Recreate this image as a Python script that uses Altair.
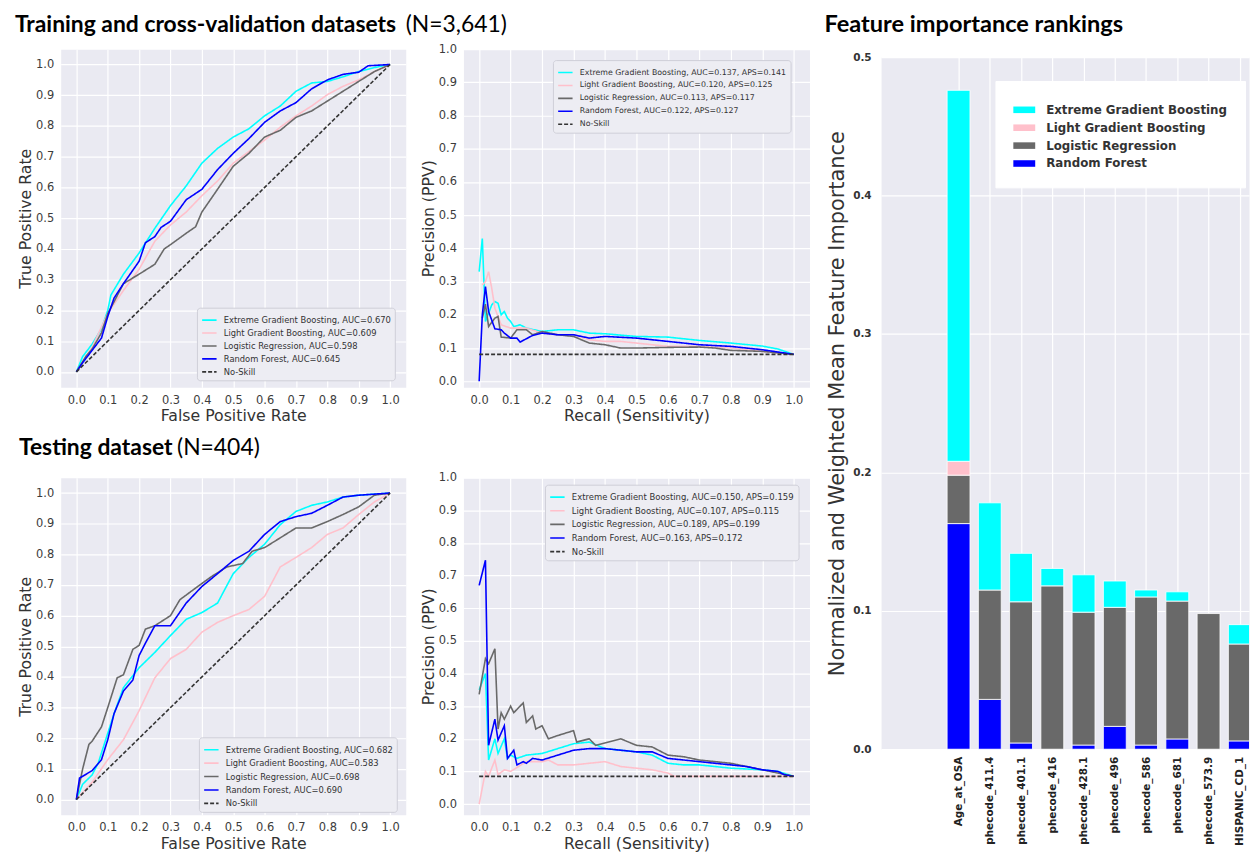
import altair as alt
import pandas as pd

# ---------------- data ----------------
MODELS = ["Extreme Gradient Boosting", "Light Gradient Boosting", "Logistic Regression", "Random Forest"]
LINE_COLORS = ["#00ffff", "#ffc0cb", "#696969", "#0000ff", "#333333"]
BAR_COLORS = ["#00ffff", "#ffc0cb", "#696969", "#0000ff"]

# ROC - training / cross-validation
roc1_xgb_x = [0, 0.02, 0.05, 0.08, 0.1, 0.11, 0.15, 0.2, 0.25, 0.3, 0.35, 0.4, 0.45, 0.5, 0.55, 0.6, 0.65, 0.7, 0.75, 0.8, 0.85, 0.9, 0.95, 1.0]
roc1_xgb_y = [0, 0.05, 0.09, 0.14, 0.2, 0.25, 0.318, 0.387, 0.467, 0.541, 0.605, 0.679, 0.727, 0.764, 0.791, 0.833, 0.865, 0.913, 0.94, 0.945, 0.96, 0.977, 0.99, 1.0]
roc1_lgb_x = [0, 0.05, 0.1, 0.15, 0.2, 0.25, 0.3, 0.35, 0.4, 0.45, 0.5, 0.55, 0.6, 0.65, 0.7, 0.75, 0.8, 0.85, 0.9, 0.95, 1.0]
roc1_lgb_y = [0, 0.08, 0.19, 0.265, 0.334, 0.425, 0.478, 0.52, 0.573, 0.621, 0.679, 0.717, 0.754, 0.796, 0.833, 0.865, 0.902, 0.929, 0.95, 0.977, 1.0]
roc1_lr_x = [0, 0.03, 0.05, 0.08, 0.1, 0.12, 0.15, 0.2, 0.25, 0.28, 0.3, 0.35, 0.38, 0.4, 0.45, 0.5, 0.55, 0.6, 0.65, 0.7, 0.75, 0.8, 0.85, 0.9, 0.95, 1.0]
roc1_lr_y = [0, 0.05, 0.074, 0.127, 0.19, 0.228, 0.287, 0.318, 0.35, 0.40, 0.414, 0.451, 0.472, 0.52, 0.594, 0.669, 0.711, 0.764, 0.786, 0.828, 0.849, 0.881, 0.913, 0.945, 0.977, 1.0]
roc1_rf_x = [0, 0.02, 0.05, 0.08, 0.1, 0.12, 0.15, 0.2, 0.22, 0.25, 0.27, 0.3, 0.35, 0.4, 0.45, 0.5, 0.55, 0.6, 0.65, 0.7, 0.75, 0.8, 0.85, 0.9, 0.93, 1.0]
roc1_rf_y = [0, 0.03, 0.07, 0.11, 0.18, 0.24, 0.287, 0.36, 0.42, 0.44, 0.47, 0.49, 0.56, 0.594, 0.658, 0.711, 0.759, 0.812, 0.849, 0.876, 0.921, 0.95, 0.968, 0.975, 0.996, 1.0]
roc1_auc = [0.670, 0.609, 0.598, 0.645]

# PR - training / cross-validation
pr1_xgb_x = [0, 0.01, 0.02, 0.04, 0.05, 0.06, 0.07, 0.08, 0.09, 0.1, 0.11, 0.13, 0.15, 0.2, 0.25, 0.3, 0.35, 0.4, 0.5, 0.6, 0.7, 0.8, 0.9, 0.95, 1.0]
pr1_xgb_y = [0.33, 0.43, 0.18, 0.23, 0.24, 0.235, 0.2, 0.21, 0.19, 0.18, 0.165, 0.17, 0.16, 0.15, 0.155, 0.155, 0.145, 0.143, 0.135, 0.133, 0.123, 0.115, 0.106, 0.097, 0.081]
pr1_lgb_x = [0.01, 0.02, 0.03, 0.04, 0.05, 0.07, 0.1, 0.15, 0.2, 0.25, 0.3, 0.35, 0.4, 0.45, 0.5, 0.55, 0.6, 0.7, 0.8, 0.9, 1.0]
pr1_lgb_y = [0.29, 0.3, 0.33, 0.28, 0.22, 0.17, 0.16, 0.16, 0.145, 0.14, 0.14, 0.125, 0.12, 0.12, 0.115, 0.11, 0.105, 0.105, 0.1, 0.09, 0.081]
pr1_lr_x = [0.01, 0.02, 0.03, 0.05, 0.06, 0.07, 0.1, 0.12, 0.15, 0.17, 0.2, 0.25, 0.3, 0.35, 0.4, 0.45, 0.5, 0.6, 0.7, 0.75, 0.8, 0.9, 1.0]
pr1_lr_y = [0.19, 0.232, 0.165, 0.19, 0.195, 0.133, 0.13, 0.155, 0.155, 0.14, 0.15, 0.14, 0.135, 0.115, 0.11, 0.1, 0.1, 0.102, 0.103, 0.1, 0.093, 0.09, 0.081]
pr1_rf_x = [0, 0.01, 0.02, 0.03, 0.05, 0.07, 0.08, 0.1, 0.12, 0.13, 0.15, 0.17, 0.2, 0.25, 0.3, 0.35, 0.4, 0.5, 0.6, 0.7, 0.8, 0.9, 1.0]
pr1_rf_y = [0.0, 0.2, 0.285, 0.21, 0.158, 0.155, 0.145, 0.13, 0.13, 0.118, 0.128, 0.138, 0.145, 0.14, 0.14, 0.13, 0.135, 0.13, 0.12, 0.11, 0.105, 0.095, 0.081]
pr1_auc = [0.137, 0.120, 0.113, 0.122]
pr1_aps = [0.141, 0.125, 0.117, 0.127]
pr1_noskill = 0.081

# ROC - testing
roc2_xgb_x = [0, 0.02, 0.05, 0.07, 0.1, 0.12, 0.15, 0.2, 0.25, 0.3, 0.35, 0.4, 0.45, 0.5, 0.55, 0.6, 0.65, 0.7, 0.75, 0.8, 0.85, 0.9, 1.0]
roc2_xgb_y = [0, 0.05, 0.08, 0.12, 0.216, 0.28, 0.365, 0.43, 0.48, 0.535, 0.588, 0.61, 0.641, 0.737, 0.79, 0.833, 0.897, 0.94, 0.96, 0.971, 0.987, 0.993, 1.0]
roc2_lgb_x = [0, 0.05, 0.1, 0.15, 0.2, 0.25, 0.3, 0.35, 0.4, 0.45, 0.5, 0.55, 0.6, 0.65, 0.7, 0.75, 0.8, 0.85, 0.9, 0.95, 1.0]
roc2_lgb_y = [0, 0.056, 0.13, 0.195, 0.29, 0.397, 0.46, 0.49, 0.546, 0.578, 0.6, 0.62, 0.663, 0.759, 0.79, 0.822, 0.865, 0.886, 0.93, 0.971, 1.0]
roc2_lr_x = [0, 0.02, 0.04, 0.05, 0.08, 0.1, 0.13, 0.15, 0.18, 0.2, 0.22, 0.25, 0.3, 0.33, 0.38, 0.43, 0.48, 0.53, 0.56, 0.6, 0.65, 0.7, 0.75, 0.8, 0.85, 0.9, 0.95, 1.0]
roc2_lr_y = [0, 0.1, 0.18, 0.19, 0.237, 0.30, 0.397, 0.407, 0.49, 0.503, 0.556, 0.567, 0.6, 0.652, 0.69, 0.727, 0.759, 0.77, 0.81, 0.822, 0.854, 0.886, 0.886, 0.907, 0.93, 0.955, 0.993, 1.0]
roc2_rf_x = [0, 0.01, 0.05, 0.08, 0.1, 0.12, 0.15, 0.18, 0.2, 0.22, 0.25, 0.3, 0.35, 0.4, 0.45, 0.5, 0.55, 0.6, 0.65, 0.7, 0.75, 0.8, 0.85, 0.9, 1.0]
roc2_rf_y = [0, 0.07, 0.094, 0.13, 0.195, 0.28, 0.354, 0.39, 0.47, 0.51, 0.567, 0.567, 0.641, 0.695, 0.737, 0.78, 0.81, 0.865, 0.907, 0.923, 0.934, 0.96, 0.987, 0.993, 1.0]
roc2_auc = [0.682, 0.583, 0.698, 0.690]

# PR - testing
pr2_xgb_x = [0, 0.02, 0.03, 0.05, 0.06, 0.08, 0.09, 0.1, 0.12, 0.15, 0.2, 0.25, 0.3, 0.35, 0.4, 0.45, 0.5, 0.55, 0.6, 0.65, 0.7, 0.75, 0.8, 0.9, 0.95, 1.0]
pr2_xgb_y = [0.35, 0.4, 0.135, 0.2, 0.155, 0.2, 0.14, 0.15, 0.14, 0.15, 0.155, 0.17, 0.185, 0.19, 0.17, 0.165, 0.16, 0.15, 0.125, 0.12, 0.12, 0.115, 0.11, 0.105, 0.1, 0.085]
pr2_lgb_x = [0, 0.02, 0.03, 0.05, 0.06, 0.08, 0.1, 0.15, 0.2, 0.22, 0.25, 0.3, 0.35, 0.4, 0.45, 0.5, 0.55, 0.6, 0.62, 0.7, 0.8, 1.0]
pr2_lgb_y = [0.0, 0.1, 0.085, 0.135, 0.09, 0.105, 0.1, 0.13, 0.13, 0.135, 0.12, 0.12, 0.125, 0.13, 0.115, 0.11, 0.105, 0.095, 0.085, 0.085, 0.085, 0.085]
pr2_lr_x = [0, 0.02, 0.03, 0.05, 0.06, 0.07, 0.08, 0.1, 0.11, 0.14, 0.15, 0.17, 0.18, 0.2, 0.22, 0.25, 0.3, 0.31, 0.35, 0.37, 0.45, 0.5, 0.55, 0.6, 0.65, 0.7, 0.75, 0.8, 0.85, 0.9, 0.95, 1.0]
pr2_lr_y = [0.336, 0.446, 0.43, 0.476, 0.23, 0.28, 0.26, 0.3, 0.28, 0.31, 0.25, 0.27, 0.23, 0.24, 0.2, 0.21, 0.225, 0.19, 0.2, 0.18, 0.2, 0.18, 0.175, 0.15, 0.145, 0.135, 0.13, 0.125, 0.115, 0.105, 0.095, 0.085]
pr2_rf_x = [0, 0.02, 0.03, 0.05, 0.06, 0.08, 0.09, 0.11, 0.12, 0.14, 0.15, 0.17, 0.2, 0.25, 0.3, 0.35, 0.4, 0.45, 0.5, 0.55, 0.6, 0.65, 0.7, 0.75, 0.8, 0.85, 0.9, 0.95, 0.97, 1.0]
pr2_rf_y = [0.67, 0.747, 0.18, 0.26, 0.196, 0.24, 0.14, 0.165, 0.12, 0.13, 0.125, 0.14, 0.135, 0.15, 0.165, 0.17, 0.17, 0.165, 0.16, 0.16, 0.14, 0.135, 0.13, 0.125, 0.12, 0.115, 0.105, 0.1, 0.09, 0.085]
pr2_auc = [0.150, 0.107, 0.189, 0.163]
pr2_aps = [0.159, 0.115, 0.199, 0.172]
pr2_noskill = 0.085

# Feature importance (stack order bottom->top: RF, LR, LGB, XGB)
features = ["Age_at_OSA", "phecode_411.4", "phecode_401.1", "phecode_416", "phecode_428.1",
            "phecode_496", "phecode_586", "phecode_681", "phecode_573.9", "HISPANIC_CD_1"]
imp_rf = [0.163, 0.036, 0.0045, 0.0, 0.003, 0.0165, 0.003, 0.0074, 0.0, 0.006]
imp_lr = [0.035, 0.079, 0.102, 0.118, 0.096, 0.086, 0.107, 0.0996, 0.098, 0.070]
imp_lgb = [0.010, 0.0, 0.0, 0.0, 0.0, 0.0, 0.0, 0.0, 0.0, 0.0]
imp_xgb = [0.268, 0.063, 0.035, 0.0126, 0.027, 0.019, 0.005, 0.0067, 0.0, 0.014]

title_train = ["Training and cross-validation datasets", "(N=3,641)"]
title_test = ["Testing dataset", "(N=404)"]
title_feat = "Feature importance rankings"

# ---------------- helpers ----------------
TICKS = [round(0.1 * k, 1) for k in range(11)]
TITLE_FONT = "Lato"


def text_layer(txt, x, y, weight, size=23):
    return alt.Chart(pd.DataFrame({"t": [txt]})).mark_text(
        align="left", baseline="alphabetic", font=TITLE_FONT, fontSize=size,
        fontWeight=weight, color="#000000"
    ).encode(text="t:N", x=alt.value(x), y=alt.value(y))


def curve_panel(xs, ys, labels, ns_x, ns_y, xtitle, ytitle, ydom, w, h, lx, ly,
                lfont=8.4, lrow=0.0, extra=()):
    rows = []
    for lab, xv, yv in zip(labels, xs, ys):
        for i, (a, b) in enumerate(zip(xv, yv)):
            rows.append({"x": a, "y": b, "series": lab, "i": i})
    for i, (a, b) in enumerate(zip(ns_x, ns_y)):
        rows.append({"x": a, "y": b, "series": "No-Skill", "i": i})
    df = pd.DataFrame(rows)
    dom = list(labels) + ["No-Skill"]
    leg = alt.Legend(
        title=None, orient="none", legendX=lx, legendY=ly, symbolType="stroke",
        symbolSize=210, symbolStrokeWidth=1.6, labelFont="DejaVu Sans", labelFontSize=lfont,
        labelColor="#333333", labelLimit=500, padding=4, rowPadding=lrow, labelOffset=6,
        fillColor="#ededf3", strokeColor="#cfcfd8", cornerRadius=3,
    )
    axis_common = dict(values=TICKS, format=".1f", labelFontSize=11.5, labelPadding=7,
                       titleFontSize=15.8, titleFontWeight="normal", labelFlush=False,
                       labelColor="#3c3c3c", titleColor="#333333")
    lines = alt.Chart(df).mark_line(strokeWidth=1.6).encode(
        x=alt.X("x:Q", scale=alt.Scale(domain=[-0.05, 1.05], nice=False, zero=False),
                axis=alt.Axis(title=xtitle, titlePadding=3, **axis_common)),
        y=alt.Y("y:Q", scale=alt.Scale(domain=ydom, nice=False, zero=False),
                axis=alt.Axis(title=ytitle, titlePadding=2, **axis_common)),
        color=alt.Color("series:N", scale=alt.Scale(domain=dom, range=LINE_COLORS), legend=leg),
        strokeDash=alt.StrokeDash("series:N", scale=alt.Scale(domain=dom, range=[[1, 0]] * 4 + [[4, 2]]), legend=leg),
        order="i:Q",
    )
    return alt.layer(lines, *extra).properties(width=w, height=h)


roc_lab = lambda aucs: [f"{m}, AUC={a:.3f}" for m, a in zip(MODELS, aucs)]
pr_lab = lambda aucs, apss: [f"{m}, AUC={a:.3f}, APS={p:.3f}" for m, a, p in zip(MODELS, aucs, apss)]

roc1 = curve_panel(
    [roc1_xgb_x, roc1_lgb_x, roc1_lr_x, roc1_rf_x], [roc1_xgb_y, roc1_lgb_y, roc1_lr_y, roc1_rf_y],
    roc_lab(roc1_auc), [0, 1], [0, 1], "False Positive Rate", "True Positive Rate",
    [-0.05, 1.05], 347, 340, 137, 260, lfont=8.4, lrow=0.0,
    extra=(text_layer(title_train[0], -46, -17, "bold"), text_layer(title_train[1], 347, -17, "normal")),
)
pr1 = curve_panel(
    [pr1_xgb_x, pr1_lgb_x, pr1_lr_x, pr1_rf_x], [pr1_xgb_y, pr1_lgb_y, pr1_lr_y, pr1_rf_y],
    pr_lab(pr1_auc, pr1_aps), [0, 1], [pr1_noskill, pr1_noskill], "Recall (Sensitivity)", "Precision (PPV)",
    [-0.018, 1.0], 348, 340, 90, 11, lfont=7.9, lrow=0.0,
)
roc2 = curve_panel(
    [roc2_xgb_x, roc2_lgb_x, roc2_lr_x, roc2_rf_x], [roc2_xgb_y, roc2_lgb_y, roc2_lr_y, roc2_rf_y],
    roc_lab(roc2_auc), [0, 1], [0, 1], "False Positive Rate", "True Positive Rate",
    [-0.05, 1.05], 347, 339, 139, 261, lfont=8.4, lrow=0.5,
    extra=(text_layer(title_test[0], -42, -23, "bold"), text_layer(title_test[1], 117, -23, "normal")),
)
pr2 = curve_panel(
    [pr2_xgb_x, pr2_lgb_x, pr2_lr_x, pr2_rf_x], [pr2_xgb_y, pr2_lgb_y, pr2_lr_y, pr2_rf_y],
    pr_lab(pr2_auc, pr2_aps), [0, 1], [pr2_noskill, pr2_noskill], "Recall (Sensitivity)", "Precision (PPV)",
    [-0.033, 1.0], 348, 339, 82, 7, lfont=8.5, lrow=0.7,
)

ind = dict(color="independent", strokeDash="independent")
row1 = alt.hconcat(roc1, pr1, spacing=58, bounds="flush").resolve_scale(**ind)
row2 = alt.hconcat(roc2, pr2, spacing=58, bounds="flush").resolve_scale(**ind)
left = alt.vconcat(row1, row2, spacing=12).resolve_scale(**ind)

# feature importance table (stacked)
brows = []
for idx, f in enumerate(features):
    base = 0.0
    for m, vals in [("Random Forest", imp_rf), ("Logistic Regression", imp_lr),
                    ("Light Gradient Boosting", imp_lgb), ("Extreme Gradient Boosting", imp_xgb)]:
        v = vals[idx]
        if v > 0:
            brows.append({"idx": idx, "feature": f, "model": m, "y0": base, "y1": base + v})
        base += v
bdf = pd.DataFrame(brows)

names_js = "[" + ",".join("'" + f + "'" for f in features) + "]"
BAR_W = 370
bars = alt.Chart(bdf).mark_bar(size=23, clip=True, stroke="white", strokeWidth=0.8).encode(
    x=alt.X("idx:Q", scale=alt.Scale(domain=[-2.32, -2.32 + BAR_W / 32.3], nice=False, zero=False),
            axis=alt.Axis(values=list(range(len(features))), labelExpr=names_js + "[round(datum.value)]",
                          labelAngle=270, labelFontWeight="bold", labelFontSize=10.5, labelPadding=7,
                          labelColor="#222222", title=None, labelFlush=False, labelOverlap=False)),
    y=alt.Y("y0:Q", scale=alt.Scale(domain=[0, 0.5], nice=False),
            axis=alt.Axis(values=[0, 0.1, 0.2, 0.3, 0.4, 0.5], format=".1f", labelFontWeight="bold",
                          labelFontSize=10.5, labelPadding=10, labelColor="#333333", labelFlush=False,
                          title="Normalized and Weighted Mean Feature Importance", titleFontSize=21,
                          titleFontWeight="normal", titleColor="#333333", titlePadding=5)),
    y2="y1:Q",
    color=alt.Color("model:N", scale=alt.Scale(domain=MODELS, range=BAR_COLORS),
                    legend=alt.Legend(title=None, orient="none", legendX=115, legendY=32,
                                      symbolType="M-1,-0.3H1V0.3H-1Z", symbolSize=484,
                                      symbolStrokeWidth=0, labelFontWeight="bold", labelFontSize=11.9,
                                      labelColor="#333333", padding=18, rowPadding=1, labelOffset=11,
                                      labelLimit=400, fillColor="white", strokeColor="white")),
).properties(width=BAR_W, height=696)

spacer = text_layer(title_feat, -57, -17, "bold", size=23.7).properties(
    width=BAR_W, height=2, view=alt.ViewBackground(fill="white", strokeWidth=0))

right = alt.vconcat(spacer, bars, spacing=0)

chart = alt.hconcat(left, right, spacing=14).resolve_scale(**ind).properties(
    padding={"left": 6, "top": 3, "right": 0, "bottom": 0}
).configure(font="DejaVu Sans").configure_view(
    fill="#eaeaf2", stroke="transparent"
).configure_axis(
    domain=False, ticks=False, grid=True, gridColor="white", gridWidth=1.2,
    labelFont="DejaVu Sans", titleFont="DejaVu Sans",
)

chart.save("out.html", embed_options={"renderer": "svg", "actions": False})
